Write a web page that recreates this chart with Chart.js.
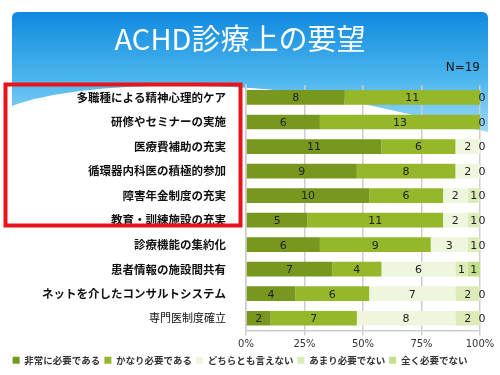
<!DOCTYPE html>
<html>
<head>
<meta charset="utf-8">
<script src="https://cdn.jsdelivr.net/npm/chart.js@4"></script>
<style>
  body { margin: 0; background: #fff; }
</style>
</head>
<body>
<canvas id="graphique" width="500" height="375"></canvas>
<script>
// categories (top to bottom)
const categories = [
  "多職種による精神心理的ケア",
  "研修やセミナーの実施",
  "医療費補助の充実",
  "循環器内科医の積極的参加",
  "障害年金制度の充実",
  "教育・訓練施設の充実",
  "診療機能の集約化",
  "患者情報の施設間共有",
  "ネットを介したコンサルトシステム",
  "専門医制度確立"
];

// number of answers per category (N=19)
const hijouni = [8, 6, 11, 9, 10, 5, 6, 7, 4, 2];
const kanari = [11, 13, 6, 8, 6, 11, 9, 4, 6, 7];
const dochira = [0, 0, 2, 2, 2, 2, 3, 6, 7, 8];
const amari = [0, 0, 0, 0, 1, 1, 1, 1, 2, 2];
const mattaku = [0, 0, 0, 0, 0, 0, 0, 1, 0, 0];

const seriesNames = ["非常に必要である", "かなり必要である", "どちらとも言えない", "あまり必要でない", "全く必要でない"];
const seriesColors = ["#77971f", "#94b82a", "#eef6dd", "#dcebb8", "#c6df8c"];

const total = 19;
const tickLabels = ["0%", "25%", "50%", "75%", "100%"];

// fond : bandeau bleu + cadre rouge
const fondPlugin = {
  id: "fond",
  beforeDraw(chart) {
    const ctx = chart.ctx;
    ctx.save();
    ctx.fillStyle = "#ffffff";
    ctx.fillRect(0, 0, chart.width, chart.height);

    const grad = ctx.createLinearGradient(0, 12, 0, 132);
    grad.addColorStop(0, "#0f89df");
    grad.addColorStop(0.55, "#4cb5ed");
    grad.addColorStop(1, "#9dd9f8");
    ctx.fillStyle = grad;
    ctx.beginPath();
    ctx.moveTo(12, 18);
    ctx.quadraticCurveTo(12, 12, 18, 12);
    ctx.lineTo(482, 12);
    ctx.quadraticCurveTo(488, 12, 488, 18);
    ctx.lineTo(488, 132);
    ctx.bezierCurveTo(420, 118, 340, 94, 250, 88);
    ctx.bezierCurveTo(150, 82, 60, 88, 12, 106);
    ctx.closePath();
    ctx.fill();
    ctx.restore();
  },
  afterDraw(chart) {
    const ctx = chart.ctx;
    ctx.save();
    ctx.strokeStyle = "#e8141b";
    ctx.lineWidth = 4;
    ctx.strokeRect(5.5, 84.5, 235, 141);
    ctx.restore();
  }
};

// valeurs au milieu de chaque segment (les 0 empilés ne sont écrits qu'une fois)
const valeursPlugin = {
  id: "valeurs",
  afterDatasetsDraw(chart) {
    const ctx = chart.ctx;
    const dejaFait = new Set();
    ctx.save();
    ctx.font = "11px 'DejaVu Sans', sans-serif";
    ctx.fillStyle = "#222";
    ctx.textAlign = "center";
    ctx.textBaseline = "middle";
    chart.data.datasets.forEach((ds, i) => {
      const meta = chart.getDatasetMeta(i);
      meta.data.forEach((bar, j) => {
        const v = ds.data[j];
        const x = (bar.x + bar.base) / 2 + (v === 0 ? 2 : 0);
        const cle = j + ":" + Math.round(x);
        if (v === 0 && dejaFait.has(cle)) return;
        dejaFait.add(cle);
        ctx.fillText(String(v), x, bar.y + 1);
      });
    });
    ctx.restore();
  }
};

const allData = [hijouni, kanari, dochira, amari, mattaku];

new Chart(document.querySelector("#graphique"), {
  type: "bar",
  data: {
    labels: categories,
    datasets: seriesNames.map((name, i) => ({
      label: name,
      data: allData[i],
      backgroundColor: seriesColors[i],
      barPercentage: 0.6,
      categoryPercentage: 1
    }))
  },
  options: {
    indexAxis: "y",
    responsive: false,
    animation: false,
    layout: { padding: { left: 0, right: 20, top: 0, bottom: 0 } },
    scales: {
      x: {
        stacked: true,
        min: 0,
        max: total,
        afterBuildTicks(scale) {
          scale.ticks = tickLabels.map((t, i) => ({ value: total * i / 4 }));
        },
        afterFit(scale) { scale.height = 21; },
        ticks: {
          callback: (v, i) => tickLabels[i],
          color: "#333",
          font: { family: "'DejaVu Sans', sans-serif", size: 10 },
          padding: 3
        },
        grid: { color: "#cdcdcd", lineWidth: 1.5, tickLength: 5 },
        border: { color: "#cdcdcd", width: 1.5 }
      },
      y: {
        stacked: true,
        afterFit(scale) { scale.width = 246; },
        ticks: {
          color: "#111",
          padding: 12,
          font: (c) => ({
            family: "'Noto Sans CJK JP', sans-serif",
            size: c.index === 9 ? 11 : 11.5,
            weight: c.index === 9 ? "normal" : "bold"
          })
        },
        grid: { display: false },
        border: { color: "#cdcdcd", width: 1.5 }
      }
    },
    plugins: {
      title: {
        display: true,
        text: "ACHD診療上の要望",
        color: "#ffffff",
        font: { family: "'Noto Sans CJK JP', sans-serif", size: 29, weight: "normal" },
        padding: { top: 22, bottom: 2 }
      },
      subtitle: {
        display: true,
        text: "N=19",
        align: "end",
        color: "#111",
        font: { family: "'DejaVu Sans', sans-serif", size: 12 },
        padding: { top: 2, bottom: 10 }
      },
      legend: {
        position: "bottom",
        labels: {
          boxWidth: 7,
          boxHeight: 7,
          padding: 4,
          color: "#333",
          font: { family: "'Noto Sans CJK JP', sans-serif", size: 9.5, weight: "bold" }
        }
      },
      tooltip: { enabled: false }
    }
  },
  plugins: [fondPlugin, valeursPlugin]
});
</script>
</body>
</html>
